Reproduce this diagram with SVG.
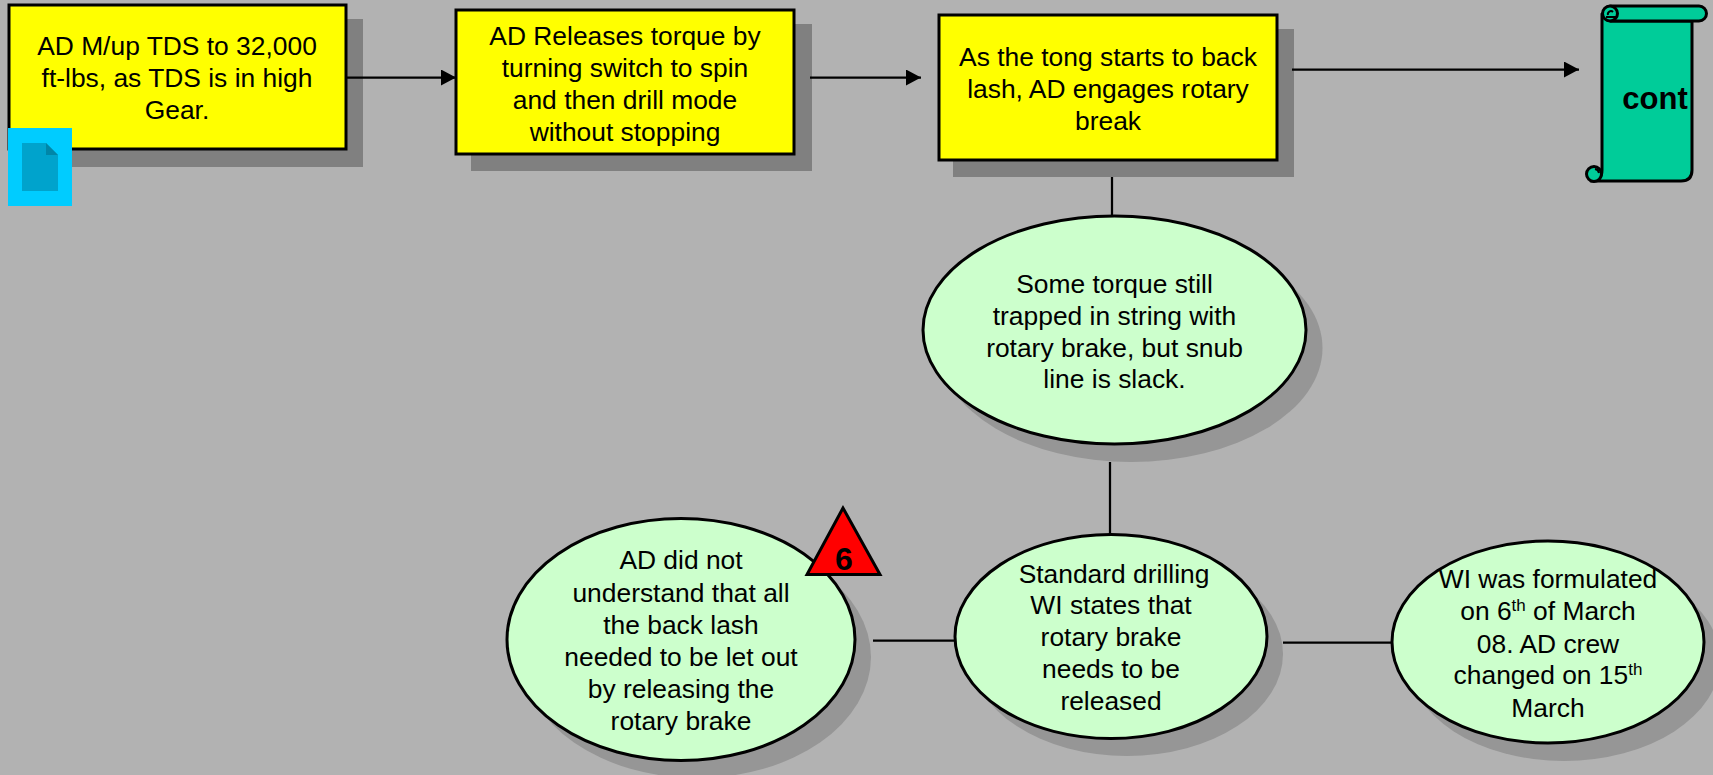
<svg xmlns="http://www.w3.org/2000/svg" width="1713" height="775" viewBox="0 0 1713 775">
<style>
text{font-family:"Liberation Sans",Arial,sans-serif;font-size:26.4px;fill:#000;text-anchor:middle}
.box{fill:#ff0;stroke:#000;stroke-width:3}
.ell{fill:#cfc;stroke:#000;stroke-width:3}
.sb{fill:#808080}
.se{fill:#969696}
.c{fill:none;stroke:#000;stroke-width:2.250}
.t{fill:none;stroke:#000;stroke-width:2}
.sup{font-size:17px}
</style>
<defs><marker id="a" markerUnits="userSpaceOnUse" markerWidth="16" markerHeight="16" refX="15" refY="8" orient="auto"><path d="M0 0L15 8L0 16z" fill="#000"/></marker></defs>
<rect width="1713" height="775" fill="#b2b2b2"/>
<g id="n1"><rect class="sb" x="24" y="19" width="339" height="148"/><rect class="box" x="9" y="5" width="337" height="144"/>
<text x="177" y="55">AD M/up TDS to 32,000</text><text x="177" y="87">ft-lbs, as TDS is in high</text><text x="177" y="119">Gear.</text></g>
<g id="note"><rect x="8" y="128" width="64" height="78" fill="#0cf"/><path d="M22 143H46L58 155V191H22z" fill="#00a3cc"/><path d="M46 143L58 155H46z" fill="#0086a8"/></g>
<g id="n2"><rect class="sb" x="471" y="24" width="341" height="147"/><rect class="box" x="456" y="10" width="338" height="144"/>
<text x="625" y="45">AD Releases torque by</text><text x="625" y="77">turning switch to spin</text><text x="625" y="109">and then drill mode</text><text x="625" y="141">without stopping</text></g>
<g id="n3"><rect class="sb" x="953" y="29" width="341" height="148"/><rect class="box" x="939" y="15" width="338" height="145"/>
<text x="1108" y="66">As the tong starts to back</text><text x="1108" y="98">lash, AD engages rotary</text><text x="1108" y="130">break</text></g>
<g id="connectors">
<path class="c" d="M346 77.500H456" marker-end="url(#a)"/>
<path class="c" d="M810 77.500H921" marker-end="url(#a)"/>
<path class="c" d="M1292 69.500H1579" marker-end="url(#a)"/>
<path class="c" d="M1112 177V216"/>
<path class="c" d="M1110 462V535"/>
<path class="c" d="M873 640.500H955"/>
<path class="c" d="M1283 642.500H1392"/>
</g>
<g id="cont"><path d="M1602 14V170Q1602 181 1591 181H1681Q1692 181 1692 170V21H1611Z" fill="#0c9" stroke="#000" stroke-width="3" stroke-linejoin="round"/>
<path d="M1611 6H1699a7.500 7.500 0 0 1 0 15H1611a7.500 7.500 0 0 1 0-15z" fill="#0c9" stroke="#000" stroke-width="3"/>
<circle cx="1610" cy="13.500" r="7.500" fill="#0c9" stroke="#000" stroke-width="3"/><path d="M1608 15a3 3 0 0 1 5-3M1606 17H1617" class="t"/>
<circle cx="1594" cy="174" r="7.500" fill="#0c9" stroke="#000" stroke-width="3"/><path d="M1595 169a5 5 0 0 1 4 4" class="t"/>
<text x="1655" y="109" style="font-size:31px;font-weight:700">cont</text></g>
<g id="n4"><ellipse class="se" cx="1131" cy="348" rx="191.500" ry="114"/><ellipse class="ell" cx="1114.500" cy="330" rx="191.500" ry="114"/>
<text x="1114.500" y="293">Some torque still</text><text x="1114.500" y="325">trapped in string with</text><text x="1114.500" y="357">rotary brake, but snub</text><text x="1114.500" y="388">line is slack.</text></g>
<g id="n5"><ellipse class="se" cx="697" cy="657" rx="174" ry="121"/><ellipse class="ell" cx="681" cy="639.500" rx="174" ry="121"/>
<text x="681" y="569">AD did not</text><text x="681" y="602">understand that all</text><text x="681" y="634">the back lash</text><text x="681" y="666">needed to be let out</text><text x="681" y="698">by releasing the</text><text x="681" y="730">rotary brake</text></g>
<g id="n6"><ellipse class="se" cx="1127" cy="654" rx="156" ry="102"/><ellipse class="ell" cx="1111" cy="636.500" rx="156" ry="102"/>
<text x="1114" y="583">Standard drilling</text><text x="1111" y="614">WI states that</text><text x="1111" y="646">rotary brake</text><text x="1111" y="678">needs to be</text><text x="1111" y="710">released</text></g>
<g id="n7"><ellipse class="se" cx="1564" cy="660" rx="156" ry="101"/><ellipse class="ell" cx="1548" cy="642" rx="156" ry="101"/>
<text x="1548" y="588">WI was formulated</text><text x="1548" y="620">on 6<tspan class="sup" dy="-9">th</tspan><tspan dy="9"> of March</tspan></text><text x="1548" y="653">08. AD crew</text><text x="1548" y="684">changed on 15<tspan class="sup" dy="-9">th</tspan></text><text x="1548" y="717">March</text></g>
<g id="flag"><path d="M843 508L807 574.500H880z" fill="#f00" stroke="#000" stroke-width="3"/><text x="844" y="570" style="font-size:32px;font-weight:700">6</text></g>
</svg>
